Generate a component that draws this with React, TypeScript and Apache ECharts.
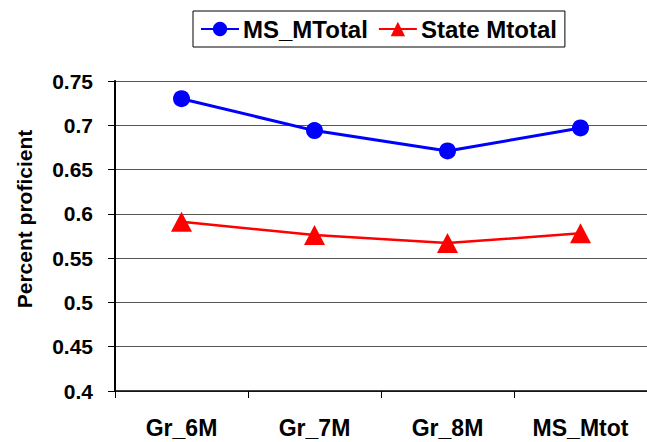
import React, { useEffect, useRef } from "react";
import * as echarts from "echarts";

const categories = ["Gr_6M", "Gr_7M", "Gr_8M", "MS_Mtot"];
const msTotal = [0.73, 0.694, 0.671, 0.697];
const stateTotal = [0.591, 0.576, 0.567, 0.578];
const seriesNames = ["MS_MTotal", "State Mtotal"];
const yAxisTitle = "Percent proficient";

const FONT = "'Liberation Sans', Arial, sans-serif";

export default function App() {
  const ref = useRef<HTMLDivElement>(null);
  useEffect(() => {
    if (!ref.current) return;
    const chart = echarts.init(ref.current, null, { renderer: "svg" });
    chart.setOption({
      animation: false,
      backgroundColor: "#ffffff",
      legend: {
        left: 193,
        top: 11,
        orient: "horizontal",
        borderColor: "#000",
        borderWidth: 1,
        padding: [6, 8, 6, 7],
        itemWidth: 38,
        itemHeight: 18,
        itemGap: 10,
        textStyle: {
          fontFamily: FONT,
          fontWeight: "bold",
          fontSize: 24,
          lineHeight: 24,
          color: "#000",
          padding: [0, 0, 0, -1],
        },
        data: [
          { name: seriesNames[0] },
          { name: seriesNames[1] },
        ],
      },
      grid: {
        left: 115,
        top: 81,
        width: 537,
        bottom: 51,
        containLabel: false,
      },
      xAxis: {
        type: "category",
        data: categories,
        boundaryGap: true,
        axisLine: { show: true, lineStyle: { color: "#000", width: 1.5 } },
        axisTick: { show: true, alignWithLabel: false, length: 7, lineStyle: { color: "#000", width: 1 } },
        axisLabel: {
          fontFamily: FONT,
          fontWeight: "bold",
          fontSize: 23,
          color: "#000",
          margin: 25,
        },
        splitLine: { show: false },
      },
      yAxis: {
        type: "value",
        min: 0.4,
        max: 0.75,
        interval: 0.05,
        name: yAxisTitle,
        nameLocation: "middle",
        nameGap: 80,
        nameRotate: 90,
        nameTextStyle: {
          fontFamily: FONT,
          fontWeight: "bold",
          fontSize: 21,
          color: "#000",
          padding: [0, 0, 0, 34],
        },
        axisLine: { show: true, lineStyle: { color: "#000", width: 2 } },
        axisTick: { show: true, length: 7, lineStyle: { color: "#000", width: 1 } },
        axisLabel: {
          fontFamily: FONT,
          fontWeight: "bold",
          fontSize: 21,
          color: "#000",
          margin: 22,
          formatter: (v: number) => String(parseFloat(v.toFixed(2))),
        },
        splitLine: { show: true, lineStyle: { color: "#555", width: 1 } },
      },
      series: [
        {
          name: seriesNames[0],
          type: "line",
          data: msTotal,
          symbol: "circle",
          symbolSize: 17,
          lineStyle: { color: "#0000ff", width: 3 },
          itemStyle: { color: "#0000ff" },
        },
        {
          name: seriesNames[1],
          type: "line",
          data: stateTotal,
          symbol: "triangle",
          symbolSize: [21, 20],
          lineStyle: { color: "#ff0000", width: 2.5 },
          itemStyle: { color: "#ff0000" },
        },
      ],
    });
    return () => chart.dispose();
  }, []);
  return <div ref={ref} style={{ width: 647, height: 442, position: "absolute", left: 0, top: 0 }} />;
}
